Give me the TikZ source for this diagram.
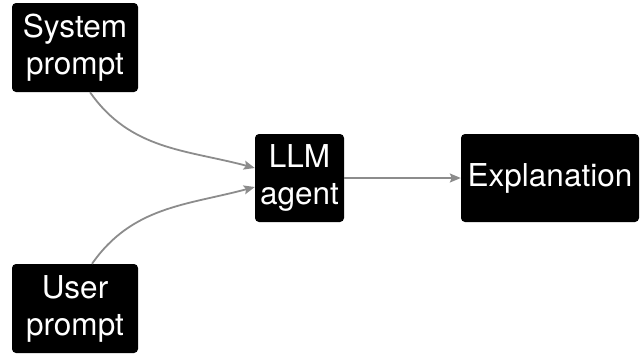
\documentclass[tikz,border=0pt]{standalone}
\usepackage{fontspec}
\setmainfont{TeX Gyre Heros}
\usetikzlibrary{arrows.meta}
\begin{document}
\begin{tikzpicture}[x=1pt,y=-1pt,
  box/.style={fill=black, text=white, rounded corners=4pt, inner sep=0pt, align=center,
    font=\fontsize{31.5}{37}\selectfont},
  conn/.style={draw=black!45, line width=1.8pt, -{Stealth[length=11pt,width=9pt,inset=2pt]}}]
\useasboundingbox (0,0) rectangle (644,354);
\node[box, minimum width=126pt, minimum height=89pt] (sys) at (75,47.5) {System\\prompt};
\node[box, minimum width=126pt, minimum height=89pt] (user) at (75,308.5) {User\\prompt};
\node[box, minimum width=89pt, minimum height=88pt] (llm) at (299.5,178) {LLM\\agent};
\node[box, minimum width=178pt, minimum height=88pt] (expl) at (550,178) {Explanation};
\draw[conn] ([xshift=15pt]sys.south) to[out=-55, in=165] ([yshift=10pt]llm.west);
\draw[conn] ([xshift=17pt]user.north) to[out=55, in=195] ([yshift=-9pt]llm.west);
\draw[conn] (llm.east) -- (expl.west);
\end{tikzpicture}
\end{document}
